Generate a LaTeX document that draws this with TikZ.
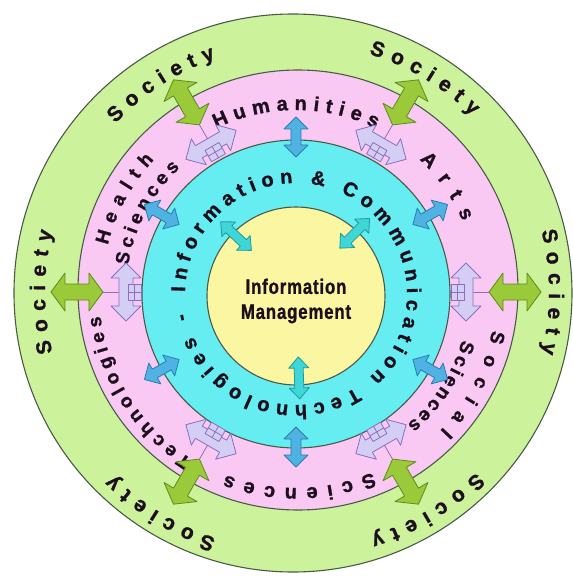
\documentclass[tikz,border=0pt]{standalone}
\usepackage{fontspec}
\setmainfont{Liberation Sans}[BoldFeatures={FakeBold=1.2}]
\newfontfamily\narrowfont{Liberation Sans}[FakeStretch=0.8,LetterSpace=4,BoldFeatures={FakeBold=1}]
\usepackage{xcolor}
\definecolor{SocGreen}{HTML}{CCF29C}
\definecolor{DiscPink}{HTML}{F9C9F4}
\definecolor{IctCyan}{HTML}{66EDF1}
\definecolor{ImYellow}{HTML}{FAF6A2}
\definecolor{RimGrey}{HTML}{4A5A48}
\definecolor{ArrGreen}{HTML}{9AC93A}
\definecolor{ArrGreenDk}{HTML}{5F8A1C}
\definecolor{ArrLav}{HTML}{D4CEF4}
\definecolor{ArrLavDk}{HTML}{8C6FBE}
\definecolor{ArrBlue}{HTML}{4FB2E2}
\definecolor{ArrBlueDk}{HTML}{2C7CAE}
\definecolor{ArrTeal}{HTML}{3ED6D6}
\definecolor{ArrTealDk}{HTML}{22999A}
\definecolor{Ink}{HTML}{1E0F1E}
\usepackage{tikz}
\usetikzlibrary{decorations.text}

\tikzset{
  rim/.style={draw=RimGrey,line width=1.1pt},
  garrow/.style={fill=ArrGreen,draw=ArrGreenDk,line width=.8pt,line join=round},
  larrow/.style={fill=ArrLav,draw=ArrLavDk,line width=.8pt,line join=round},
  barrow/.style={fill=ArrBlue,draw=ArrBlueDk,line width=.8pt,line join=round},
  tarrow/.style={fill=ArrTeal,draw=ArrTealDk,line width=.8pt,line join=round},
  link/.style={draw=ArrLavDk,line width=.8pt}
}

% style, angle, radius, rotation, half length, head length, head half width, shaft half width
\newcommand\dblarrow[8]{%
  \draw[#1,shift={(#2:#3)},rotate=#4]
    (-#5,0) -- ++(#6,#7) -- ++(0,-#7+#8) -- (#5-#6,#8) -- ++(0,#7-#8) -- (#5,0)
    -- ++(-#6,-#7) -- ++(0,#7-#8) -- (-#5+#6,-#8) -- ++(0,-#7+#8) -- cycle;}

% radius, start, end, font size, text
\newcommand\ringtext[5]{%
  \path[decorate,decoration={text along path,text align=fit to path,text color=Ink,
    text={|\fontsize{#4}{#4}\selectfont\bfseries|#5}}]
    (#2:#1) arc[start angle=#2,end angle=#3,radius=#1];}

\begin{document}
\begin{tikzpicture}[x=1pt,y=1pt]
\useasboundingbox (-296,-284) rectangle (277,292);
% rings
\filldraw[rim,fill=SocGreen] (-3,-1) circle[radius=279];
\filldraw[rim,fill=DiscPink] (2,2) circle[radius=220];
\filldraw[rim,fill=IctCyan] (0,-2) circle[radius=154];
\filldraw[rim,fill=ImYellow] (0,-4) circle[radius=89];

% society
\ringtext{247}{137}{109}{21}{Society}
\ringtext{249}{73}{45}{21}{Society}
\ringtext{253}{14}{-14}{21}{Society}
\ringtext{251}{194}{166}{21}{Society}
\ringtext{259}{252}{225}{21}{Society}
\ringtext{255}{-45}{-73}{21}{Society}

% disciplines
\ringtext{182}{116}{64}{20}{Humanities}
\ringtext{181}{47}{23}{20}{Arts}
\ringtext{194}{166}{137}{19}{Health}
\ringtext{170}{171}{133}{19}{Sciences}
\ringtext{200}{-11}{-44}{19}{Social}
\ringtext{173}{-16}{-50}{19}{Sciences}
\ringtext{196}{-67}{-111}{20}{Sciences}
\ringtext{197}{238}{187}{19}{Technologies}

% ict
\begin{scope}[shift={(0,-2)}]
\ringtext{111}{179}{-170}{20}{Information {\&} Communication Technologies -}
\end{scope}

\node[font=\narrowfont\bfseries\fontsize{21}{25}\selectfont,align=center,text=Ink] (im) at (0,-9) {Information\\Management};

% links between discipline and society arrows
\foreach \a in {0,60,...,300}{
  \coordinate (lav\a) at (\a:156);
  \coordinate (grn\a) at (\a:196);
  \draw[link] (lav\a) -- (grn\a);
}
\foreach \a in {0,60,...,300}{
  \dblarrow{larrow}{\a}{170}{\a+90}{29}{15}{15}{7}
  \draw[larrow,rotate=\a] (155,-8) rectangle (168,8) (161.5,-8) -- (161.5,8) (155,0) -- (168,0);
}
\foreach \a in {0,60,...,300}{
  \dblarrow{garrow}{\a}{219}{\a}{26}{14}{19}{8}
}
\foreach \a in {30,90,...,330}{
  \dblarrow{barrow}{\a}{155}{\a}{20}{12}{12}{5}
}
\foreach \a/\rad in {45/83,137/82,272/86}{
  \dblarrow{tarrow}{\a}{\rad}{\a}{21}{11}{10}{4.5}
}
\end{tikzpicture}
\end{document}
